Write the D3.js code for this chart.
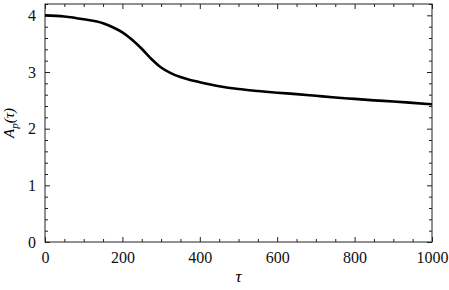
<!DOCTYPE html>
<html>
<head>
<meta charset="utf-8">
<script src="https://cdn.jsdelivr.net/npm/d3@7"></script>
<style>
  body { margin: 0; background: #fff; }
</style>
</head>
<body>
<div id="chart"></div>
<script>
// curve values
const tau = [0, 50, 100, 150, 175, 200, 225, 250, 275, 300, 325, 350, 375, 400, 450, 500, 550, 600, 650, 700, 750, 800, 850, 900, 950, 1000];
const amp = [4.00, 3.98, 3.93, 3.86, 3.79, 3.70, 3.57, 3.41, 3.23, 3.08, 2.98, 2.91, 2.86, 2.82, 2.75, 2.70, 2.665, 2.635, 2.61, 2.58, 2.55, 2.525, 2.50, 2.48, 2.455, 2.43];

const xTicks = [0, 200, 400, 600, 800, 1000];
const yTicks = [0, 1, 2, 3, 4];

const serif = "'Liberation Serif', 'Times New Roman', 'DejaVu Serif', serif";

const margin = {top: 4, right: 17, bottom: 48, left: 45};
const width = 449 - margin.left - margin.right;
const height = 290 - margin.top - margin.bottom;

const data = tau.map((t, i) => ({t: t, a: amp[i]}));

const svg = d3.select("#chart")
    .append("svg")
    .attr("width", 449)
    .attr("height", 290)
    .append("g")
    .attr("transform", "translate(" + margin.left + "," + margin.top + ")");

const x = d3.scaleLinear().domain([0, 1000]).range([0, width]);
const y = d3.scaleLinear().domain([0, 4.2]).range([height, 0]);

const xMinor = d3.range(0, 1001, 50).filter(v => v % 200 !== 0);
const yMinor = d3.range(0, 4.21, 0.2).filter(v => Math.abs(v - Math.round(v)) > 1e-6);

function styleAxis(g) {
    g.attr("font-family", null).attr("font-size", null);
    g.select(".domain").remove();
    g.selectAll("line").attr("stroke", "#222").attr("stroke-width", 1);
    g.selectAll("text")
        .attr("fill", "#111")
        .style("font-family", serif)
        .style("font-size", "16px");
}

// bottom axis, ticks inward
svg.append("g")
    .attr("transform", "translate(0," + height + ")")
    .call(d3.axisBottom(x).tickValues(xTicks).tickFormat(d3.format("d")).tickSizeInner(-5).tickPadding(10))
    .call(styleAxis);
svg.append("g")
    .attr("transform", "translate(0," + height + ")")
    .call(d3.axisBottom(x).tickValues(xMinor).tickFormat("").tickSizeInner(-3))
    .call(styleAxis);

// top axis
svg.append("g")
    .call(d3.axisTop(x).tickValues(xTicks).tickFormat("").tickSizeInner(-5))
    .call(styleAxis);
svg.append("g")
    .call(d3.axisTop(x).tickValues(xMinor).tickFormat("").tickSizeInner(-3))
    .call(styleAxis);

// left axis
svg.append("g")
    .call(d3.axisLeft(y).tickValues(yTicks).tickFormat(d3.format("d")).tickSizeInner(-5).tickPadding(9))
    .call(styleAxis);
svg.append("g")
    .call(d3.axisLeft(y).tickValues(yMinor).tickFormat("").tickSizeInner(-3))
    .call(styleAxis);

// right axis
svg.append("g")
    .attr("transform", "translate(" + width + ",0)")
    .call(d3.axisRight(y).tickValues(yTicks).tickFormat("").tickSizeInner(-5))
    .call(styleAxis);
svg.append("g")
    .attr("transform", "translate(" + width + ",0)")
    .call(d3.axisRight(y).tickValues(yMinor).tickFormat("").tickSizeInner(-3))
    .call(styleAxis);

// frame
svg.append("rect")
    .attr("x", 0)
    .attr("y", 0)
    .attr("width", width)
    .attr("height", height)
    .attr("fill", "none")
    .attr("stroke", "#222")
    .attr("stroke-width", 1);

// curve
svg.append("path")
    .datum(data)
    .attr("fill", "none")
    .attr("stroke", "#000")
    .attr("stroke-width", 2.6)
    .attr("d", d3.line()
        .x(d => x(d.t))
        .y(d => y(d.a))
        .curve(d3.curveMonotoneX));

// axis labels
svg.append("text")
    .attr("x", width / 2)
    .attr("y", height + 40)
    .attr("text-anchor", "middle")
    .style("font-family", serif)
    .style("font-size", "17px")
    .style("font-style", "italic")
    .text("τ");

const yl = svg.append("text")
    .attr("transform", "translate(" + (-31) + "," + (height / 2) + ") rotate(-90)")
    .attr("text-anchor", "middle")
    .style("font-family", serif)
    .style("font-size", "15px")
    .style("font-style", "italic");
yl.append("tspan").text("A");
yl.append("tspan").attr("dy", 4).style("font-size", "11px").text("p");
yl.append("tspan").attr("dy", -4).text("(τ)");
</script>
</body>
</html>
